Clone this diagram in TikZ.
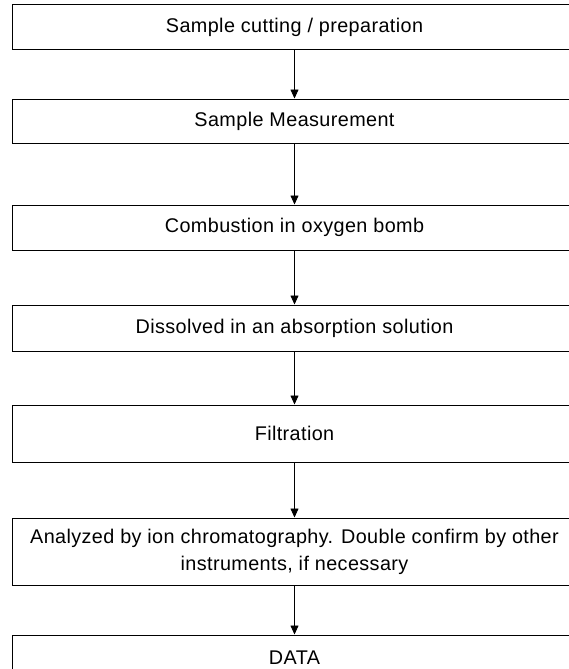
\documentclass[tikz,border=0pt]{standalone}
\usepackage{fontspec}
\setmainfont[LetterSpace=2.0]{Liberation Sans}
\usetikzlibrary{shapes,arrows.meta,positioning}
\tikzstyle{block} = [rectangle, draw, line width=1pt, minimum width=565pt, align=center, font=\fontsize{19.8}{27}\selectfont]
\tikzstyle{line} = [draw, line width=0.8pt, -{Triangle[width=8pt,length=9pt]}]

\begin{document}
\begin{tikzpicture}[x=1pt, y=-1pt, node distance=48pt]
	\useasboundingbox (0,0) rectangle (569,669);
	% Place nodes
	\node [block, minimum height=45pt] (cut) at (294.5,27.5) {Sample cutting / preparation};
	\node [block, minimum height=44pt, below=48pt of cut] (measure) {Sample Measurement};
	\node [block, minimum height=45pt, below=61pt of measure] (combust) {Combustion in oxygen bomb};
	\node [block, minimum height=46pt, below=54pt of combust] (dissolve) {Dissolved in an absorption solution};
	\node [block, minimum height=57pt, below=53pt of dissolve] (filter) {Filtration};
	\node [block, minimum height=67pt, below=55pt of filter] (analyze) {Analyzed by ion chromatography. Double confirm by other\\instruments, if necessary};
	\node [block, minimum height=45pt, below=49pt of analyze] (data) {DATA};
	% Draw edges
	\path [line] (cut) -- (measure);
	\path [line] (measure) -- (combust);
	\path [line] (combust) -- (dissolve);
	\path [line] (dissolve) -- (filter);
	\path [line] (filter) -- (analyze);
	\path [line] (analyze) -- (data);
\end{tikzpicture}
\end{document}
